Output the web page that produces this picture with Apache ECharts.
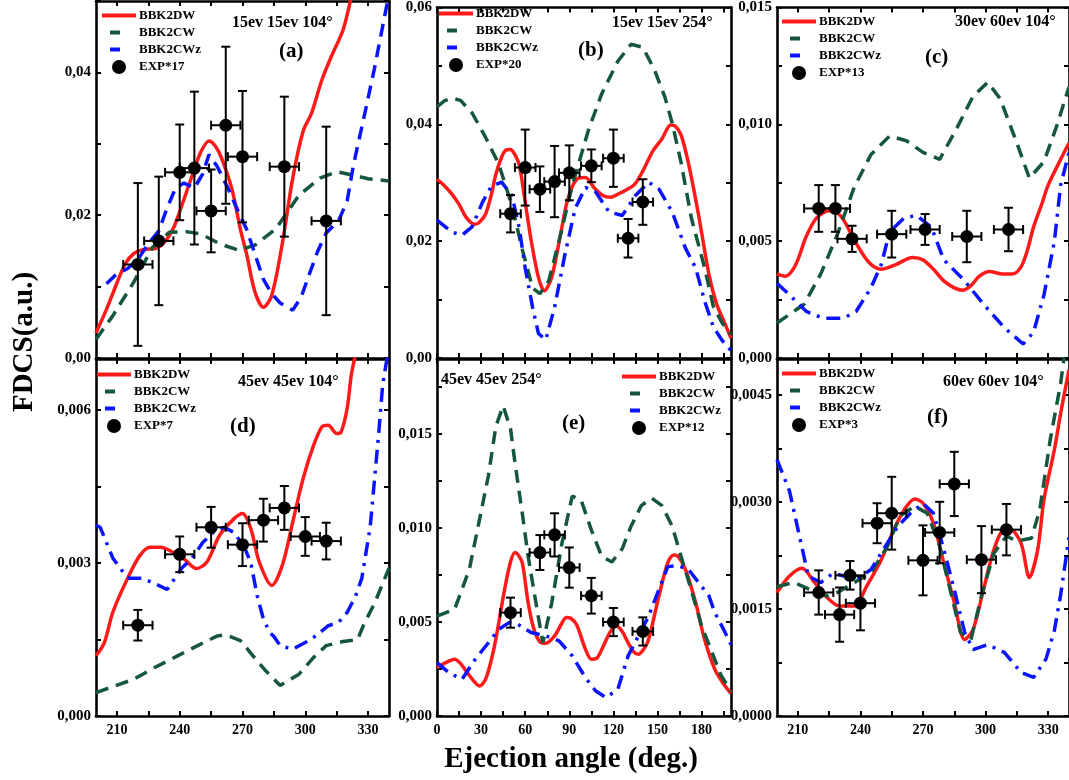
<!DOCTYPE html>
<html><head><meta charset="utf-8">
<script src="https://cdn.jsdelivr.net/npm/echarts@6/dist/echarts.min.js"></script>
<style>html,body{margin:0;padding:0;background:#fff}#c{width:1069px;height:780px}</style>
</head><body><div id="c"></div><script>
// ---------- data (angle in deg, FDCS in a.u.) ----------
// panel (a) 15ev 15ev 104°
const aRed = [[200,0.0035],[205,0.0068],[210,0.0105],[214,0.0132],[218,0.0146],[223,0.0152],[229,0.0154],[233,0.0163],[237,0.0182],[240,0.0205],[246,0.0256],[250,0.0288],[254,0.0304],[257,0.0297],[260,0.0280],[265,0.0236],[269,0.018],[272,0.0145],[276,0.0092],[280,0.0071],[284,0.0088],[289,0.016],[294,0.0252],[299,0.0318],[303,0.0343],[308,0.039],[313,0.0426],[318,0.0459],[322,0.0506],[326,0.056],[330,0.062]];
const aGreen = [[200,0.0026],[208,0.0059],[218,0.0106],[227,0.0155],[235,0.0176],[243,0.0177],[250,0.0174],[259,0.016],[268,0.0151],[276,0.0158],[286,0.0181],[297,0.0228],[307,0.0252],[315,0.0261],[323,0.0256],[330,0.0251],[340,0.0248]];
const aBlue = [[205,0.0104],[210,0.0118],[215,0.0125],[220,0.0138],[225,0.016],[230,0.0178],[234,0.021],[238,0.0238],[242,0.0245],[247,0.0238],[251,0.0258],[254,0.0285],[258,0.0268],[263,0.0238],[268,0.0205],[272,0.018],[276,0.0145],[280,0.011],[284,0.009],[288,0.0077],[294,0.0067],[298,0.0085],[302,0.0118],[306,0.015],[310,0.0175],[316,0.0193],[320,0.022],[323,0.027],[326,0.031],[329,0.035],[333,0.0405],[337,0.0465],[340,0.051]];
const aExp = [[220,0.0131,0.0114],[230,0.0164,0.009],[240,0.026,0.0067],[247,0.0266,0.0107],[255,0.0206,0.0058],[262,0.0326,0.011],[270,0.0282,0.0092],[290,0.0268,0.0098],[310,0.0192,0.0132]];
// panel (b) 15ev 15ev 254°
const bRed = [[0,0.0306],[5,0.0295],[10,0.0281],[15,0.0263],[19,0.0244],[23,0.0232],[26,0.0229],[29,0.0233],[33,0.0246],[37,0.028],[40,0.0314],[44,0.0344],[47,0.0356],[50,0.0357],[53,0.0348],[56,0.033],[60,0.0267],[64,0.0202],[69,0.0138],[73,0.0115],[78,0.0138],[84,0.0211],[89,0.0272],[95,0.0306],[101,0.0309],[107,0.0291],[113,0.0278],[118,0.0275],[125,0.0283],[134,0.0296],[140,0.032],[147,0.0355],[153,0.0375],[159,0.0399],[162,0.0397],[166,0.0382],[171,0.0334],[178,0.0244],[185,0.0143],[190,0.0094],[196,0.0058],[200,0.0034]];
const bGreen = [[0,0.043],[5,0.044],[10,0.0445],[16,0.0441],[24,0.0419],[33,0.0378],[42,0.0332],[51,0.0261],[58,0.0186],[65,0.012],[70,0.011],[76,0.0132],[83,0.02],[92,0.0295],[103,0.039],[112,0.0452],[123,0.0508],[132,0.0537],[140,0.0532],[148,0.0493],[155,0.0447],[160,0.0402],[166,0.0335],[173,0.024],[182,0.0155],[188,0.0088],[194,0.006],[200,0.004]];
const bBlue = [[0,0.0236],[10,0.0216],[17,0.021],[24,0.0225],[31,0.0267],[37,0.0294],[44,0.0301],[51,0.0278],[56,0.0222],[60,0.0154],[65,0.0087],[69,0.0042],[74,0.0031],[80,0.0087],[87,0.0177],[94,0.0256],[101,0.0292],[108,0.0284],[117,0.025],[126,0.0244],[135,0.0278],[144,0.0301],[151,0.0289],[160,0.025],[169,0.0188],[176,0.0154],[182,0.0098],[188,0.0053],[194,0.003],[200,0.0013]];
const bExp = [[50,0.0247,0.0032],[60,0.0326,0.0065],[70,0.0289,0.0039],[80,0.0302,0.0061],[90,0.0317,0.0047],[105,0.0329,0.0028],[120,0.0342,0.0049],[130,0.0205,0.0033],[140,0.0267,0.0039]];
// panel (c) 30ev 60ev 104°
const cRed = [[200,0.0036],[204,0.0035],[207,0.0037],[210,0.0042],[214,0.0052],[219,0.006],[225,0.0063],[229,0.0062],[232,0.0059],[238,0.0049],[244,0.0041],[250,0.0038],[257,0.004],[265,0.0043],[270,0.0042],[275,0.0038],[280,0.0033],[285,0.003],[289,0.0029],[293,0.0031],[297,0.0035],[302,0.0037],[308,0.0036],[313,0.0036],[317,0.0039],[320,0.0046],[323,0.0056],[327,0.0066],[330,0.0074],[336,0.0085],[340,0.0092]];
const cGreen = [[200,0.0015],[213,0.0023],[221,0.0036],[229,0.0053],[237,0.0073],[245,0.0087],[254,0.0095],[262,0.0093],[270,0.0088],[278,0.0085],[286,0.0098],[294,0.0112],[301,0.0118],[307,0.0111],[315,0.0092],[321,0.0077],[328,0.0084],[334,0.0099],[340,0.0116]];
const cBlue = [[200,0.0032],[206,0.0027],[214,0.002],[222,0.0017],[232,0.0017],[238,0.002],[245,0.003],[250,0.004],[254,0.0054],[261,0.006],[267,0.0061],[274,0.0056],[280,0.0042],[290,0.0033],[299,0.0023],[309,0.0013],[318,0.0006],[323,0.0011],[328,0.0027],[333,0.005],[336,0.0074],[340,0.0088]];
const cExp = [[220,0.0064,0.001],[228,0.0064,0.001],[236,0.0051,0.00056],[255,0.0053,0.001],[271,0.0055,0.00066],[291,0.0052,0.0011],[311,0.0055,0.00093]];
// panel (d) 45ev 45ev 104°
const dRed = [[200,0.00118],[204,0.00144],[208,0.00203],[215,0.00269],[221,0.00315],[226,0.00331],[231,0.00331],[235,0.00325],[242,0.00308],[248,0.00289],[253,0.00302],[259,0.00354],[266,0.00387],[270,0.00397],[274,0.00367],[278,0.00302],[284,0.00256],[289,0.00295],[294,0.0038],[299,0.00466],[304,0.00531],[308,0.00567],[311,0.0057],[315,0.00554],[317,0.00556],[320,0.00603],[322,0.00669],[324,0.0071],[327,0.0078]];
const dGreen = [[200,0.00046],[207,0.00056],[218,0.00072],[228,0.00095],[239,0.00118],[250,0.00141],[258,0.00157],[262,0.00159],[269,0.00148],[275,0.00118],[281,0.00089],[288,0.0006],[297,0.00082],[304,0.00115],[310,0.00138],[318,0.00146],[325,0.0015],[328,0.0018],[333,0.0022],[338,0.0027],[340,0.0029]];
const dBlue = [[200,0.00374],[202,0.0037],[205,0.0034],[208,0.0031],[212,0.00287],[216,0.0027],[222,0.0027],[228,0.0026],[234,0.00248],[241,0.0029],[246,0.0031],[251,0.0034],[256,0.0036],[261,0.0037],[266,0.0036],[271,0.0033],[274,0.003],[277,0.00236],[280,0.0019],[283,0.00164],[285,0.00156],[288,0.00138],[294,0.00131],[300,0.00144],[305,0.00157],[311,0.00177],[316,0.00184],[320,0.00203],[324,0.00235],[327,0.0027],[331,0.0037],[333,0.0046],[335,0.0055],[337,0.0065],[339,0.007],[340,0.0073]];
const dExp = [[220,0.00178,0.0003],[240,0.00317,0.00035],[255,0.0037,0.0004],[270,0.00336,0.00042],[280,0.00384,0.00042],[290,0.00408,0.00043],[300,0.00352,0.00038],[310,0.00343,0.00036]];
// panel (e) 45ev 45ev 254°
const eRed = [[0,0.00257],[6,0.00284],[12,0.00302],[16,0.0028],[19,0.00248],[25,0.00186],[29,0.0016],[33,0.00195],[37,0.003],[40,0.00408],[46,0.00674],[50,0.0082],[53,0.0087],[55,0.0086],[58,0.00816],[62,0.00603],[66,0.0046],[70,0.00395],[74,0.00387],[80,0.00426],[85,0.00495],[88,0.00524],[91,0.0052],[95,0.00485],[101,0.00355],[105,0.00302],[109,0.0031],[113,0.0037],[118,0.0045],[122,0.00479],[126,0.0045],[130,0.0039],[134,0.0034],[137,0.00328],[141,0.0036],[144,0.00408],[151,0.00639],[157,0.00816],[161,0.00857],[164,0.0085],[169,0.00781],[176,0.00603],[182,0.00408],[189,0.00248],[195,0.0017],[200,0.0012]];
const eGreen = [[0,0.00532],[12,0.00568],[22,0.00781],[28,0.0101],[35,0.0128],[40,0.0154],[45,0.0165],[50,0.0153],[53,0.0135],[58,0.0108],[62,0.0085],[68,0.0057],[72,0.0039],[78,0.006],[85,0.0092],[92,0.0117],[98,0.0115],[105,0.0099],[112,0.0085],[119,0.0082],[126,0.0089],[132,0.0101],[139,0.0112],[146,0.0116],[153,0.0112],[160,0.0101],[166,0.0085],[173,0.0067],[180,0.0048],[187,0.0034],[193,0.0022],[200,0.0013]];
const eBlue = [[0,0.00284],[8,0.00231],[17,0.00195],[26,0.00302],[35,0.0039],[42,0.00461],[49,0.00497],[55,0.00488],[64,0.00444],[74,0.00426],[83,0.004],[92,0.0032],[101,0.00204],[108,0.00133],[115,0.00098],[123,0.00142],[130,0.0032],[137,0.00426],[144,0.00532],[151,0.00674],[157,0.00795],[164,0.008],[171,0.00781],[178,0.0071],[185,0.00639],[189,0.0055],[195,0.0046],[200,0.0038]];
const eExp = [[50,0.0055,0.0008],[70,0.0087,0.00093],[80,0.00964,0.00115],[90,0.0079,0.00107],[105,0.0064,0.00095],[120,0.005,0.00075],[140,0.0045,0.00075]];
// panel (f) 60ev 60ev 104°
const fRed = [[200,0.00173],[206,0.00196],[212,0.00207],[218,0.00187],[224,0.00166],[230,0.00154],[237,0.00154],[243,0.00182],[250,0.00219],[256,0.00261],[261,0.00289],[266,0.00304],[270,0.00298],[275,0.0027],[280,0.00214],[285,0.00159],[290,0.00107],[294,0.00121],[299,0.00177],[304,0.00233],[309,0.00261],[312,0.00261],[317,0.00242],[321,0.00194],[325,0.00233],[328,0.00303],[333,0.00373],[336,0.00424],[340,0.00485]];
const fGreen = [[200,0.00181],[208,0.00187],[216,0.00177],[224,0.00168],[229,0.00173],[237,0.00187],[245,0.002],[253,0.00238],[259,0.0028],[266,0.00294],[272,0.00284],[278,0.00238],[283,0.00177],[288,0.00117],[293,0.00107],[298,0.00168],[304,0.00228],[310,0.00252],[315,0.00245],[322,0.00249],[326,0.00289],[331,0.00387],[336,0.00466],[338,0.0051]];
const fBlue = [[200,0.00359],[206,0.00315],[211,0.00249],[215,0.00196],[221,0.00187],[227,0.002],[232,0.00196],[238,0.00191],[245,0.00205],[251,0.00233],[258,0.00266],[264,0.00284],[270,0.00298],[275,0.00284],[280,0.00233],[285,0.00177],[290,0.00117],[294,0.00093],[301,0.001],[309,0.00089],[317,0.00061],[323,0.00054],[329,0.0008],[333,0.0012],[336,0.0017],[339,0.0023],[340,0.0025]];
const fExp = [[220,0.00173,0.00031],[230,0.00142,0.00038],[235,0.00197,0.0002],[240,0.00158,0.00038],[248,0.0027,0.00028],[255,0.00284,0.00051],[270,0.00218,0.00049],[278,0.00257,0.00043],[285,0.00325,0.00045],[298,0.00219,0.00047],[310,0.00261,0.00036]];
const EXP_XERR = 7;

// tick values / labels
const angTicksL = [210,225,240,255,270,285,300,315,330];
const angLabelsL = [210,240,270,300,330];
const angTicksM = [0,15,30,45,60,75,90,105,120,135,150,165,180,195];
const angLabelsM = [0,30,60,90,120,150,180];
const aYTicks = [0,0.01,0.02,0.03,0.04,0.05], aYLabels = [0,0.02,0.04];
const bYTicks = [0,0.01,0.02,0.03,0.04,0.05,0.06], bYLabels = [0,0.02,0.04,0.06];
const cYTicks = [0,0.0025,0.005,0.0075,0.01,0.0125,0.015], cYLabels = [0,0.005,0.01,0.015];
const dYTicks = [0,0.0015,0.003,0.0045,0.006], dYLabels = [0,0.003,0.006];
const eYTicks = [0,0.0025,0.005,0.0075,0.01,0.0125,0.015,0.0175], eYLabels = [0,0.005,0.01,0.015];
const fYTicks = [0,0.00075,0.0015,0.00225,0.003,0.00375,0.0045], fYLabels = [0,0.0015,0.003,0.0045];

// ---------- layout / style ----------
const FONT = 'Liberation Serif';
const RED = '#ff1a1a', GREEN = '#15573c', BLUE = '#0a14ff';
// legend icons: full solid bar, and a short centered dash (tiny end specks keep the width)
const ICON_SOLID = 'path://M0,0H34V4H0Z';
const ICON_DASH = 'path://M0,2H0.01V2.01H0Z M8,0H18V4H8Z M33.99,2H34V2.01H33.99Z';
const panels = [
  {id:'a', exp:'EXP*17', red:aRed, green:aGreen, blue:aBlue, pts:aExp, xr:[200,340], ymax:0.05, yt:aYTicks, yl:aYLabels, xt:angTicksL, xl:angLabelsL, dec:2, showX:false, blueDash:[13,8],
   grid:{left:96, top:1, width:293, height:357}, lg:{left:102, top:9}, title:{x:232, y:23, t:'15ev 15ev 104°'}, tag:{x:279, y:52, t:'(a)'}},
  {id:'b', exp:'EXP*20', red:bRed, green:bGreen, blue:bBlue, pts:bExp, xr:[0,200], ymax:0.06, yt:bYTicks, yl:bYLabels, xt:angTicksM, xl:angLabelsM, dec:2, showX:false, blueDash:[14,7,3,7],
   grid:{left:437, top:1, width:294, height:357}, lg:{left:439, top:7}, title:{x:612, y:23, t:'15ev 15ev 254°'}, tag:{x:578, y:51, t:'(b)'}},
  {id:'c', exp:'EXP*13', red:cRed, green:cGreen, blue:cBlue, pts:cExp, xr:[200,340], ymax:0.015, yt:cYTicks, yl:cYLabels, xt:angTicksL, xl:angLabelsL, dec:3, showX:false, blueDash:[14,7,3,7],
   grid:{left:777, top:1, width:296, height:357}, lg:{left:782, top:15}, title:{x:955, y:22, t:'30ev 60ev 104°'}, tag:{x:925, y:58, t:'(c)'}},
  {id:'d', exp:'EXP*7', red:dRed, green:dGreen, blue:dBlue, pts:dExp, xr:[200,340], ymax:0.007, yt:dYTicks, yl:dYLabels, xt:angTicksL, xl:angLabelsL, dec:3, showX:true, blueDash:[14,7,3,7],
   grid:{left:96, top:359, width:293, height:357}, lg:{left:97, top:368}, title:{x:238, y:382, t:'45ev 45ev 104°'}, tag:{x:230, y:427, t:'(d)'}},
  {id:'e', exp:'EXP*12', red:eRed, green:eGreen, blue:eBlue, pts:eExp, xr:[0,200], ymax:0.019, yt:eYTicks, yl:eYLabels, xt:angTicksM, xl:angLabelsM, dec:3, showX:true, blueDash:[14,7,3,7],
   grid:{left:437, top:359, width:294, height:357}, lg:{left:622, top:370}, title:{x:441, y:380, t:'45ev 45ev 254°'}, tag:{x:562, y:424, t:'(e)'}},
  {id:'f', exp:'EXP*3', red:fRed, green:fGreen, blue:fBlue, pts:fExp, xr:[200,340], ymax:0.005, yt:fYTicks, yl:fYLabels, xt:angTicksL, xl:angLabelsL, dec:4, showX:true, blueDash:[14,7,3,7],
   grid:{left:777, top:359, width:296, height:357}, lg:{left:782, top:367}, title:{x:943, y:382, t:'60ev 60ev 104°'}, tag:{x:927, y:418, t:'(f)'}}
];

const axLine = {show:true, onZero:false, lineStyle:{color:'#000', width:2.6}};
const grids = [], xAxes = [], yAxes = [], series = [], legends = [], graphics = [];

function errRender(params, api) {
  const x = api.value(0), y = api.value(1), ex = api.value(2), ey = api.value(3);
  const t = api.coord([x, y + ey]), b = api.coord([x, y - ey]);
  const l = api.coord([x - ex, y]), r = api.coord([x + ex, y]);
  const cap = 4.5, st = {stroke:'#000', lineWidth:2};
  const L = (x1,y1,x2,y2) => ({type:'line', shape:{x1,y1,x2,y2}, style:st});
  return {type:'group', children:[
    L(t[0],t[1],b[0],b[1]), L(t[0]-cap,t[1],t[0]+cap,t[1]), L(b[0]-cap,b[1],b[0]+cap,b[1]),
    L(l[0],l[1],r[0],r[1]), L(l[0],l[1]-cap,l[0],l[1]+cap), L(r[0],r[1]-cap,r[0],r[1]+cap)
  ]};
}

panels.forEach((p, i) => {
  grids.push(Object.assign({containLabel:false}, p.grid));
  const labelFont = {fontFamily:FONT, fontWeight:'bold', color:'#000'};
  xAxes.push({type:'value', gridIndex:i, position:'bottom', min:p.xr[0], max:p.xr[1],
    axisLine:axLine, splitLine:{show:false},
    axisTick:{show:true, inside:true, length:5, lineStyle:{width:2, color:'#000'}, customValues:p.xt},
    axisLabel:Object.assign({show:p.showX, margin:7, fontSize:14, customValues:p.xl}, labelFont)});
  xAxes.push({type:'value', gridIndex:i, position:'top', min:p.xr[0], max:p.xr[1],
    axisLine:axLine, splitLine:{show:false},
    axisTick:{show:true, inside:true, length:5, lineStyle:{width:2, color:'#000'}, customValues:p.xt},
    axisLabel:{show:false}});
  yAxes.push({type:'value', gridIndex:i, position:'left', min:0, max:p.ymax,
    axisLine:axLine, splitLine:{show:false},
    axisTick:{show:true, inside:true, length:5, lineStyle:{width:2, color:'#000'}, customValues:p.yt},
    axisLabel:Object.assign({show:true, margin:5, fontSize:15, customValues:p.yl,
      formatter:(v) => Number(v).toFixed(p.dec).replace('.', ',')}, labelFont)});
  yAxes.push({type:'value', gridIndex:i, position:'right', min:0, max:p.ymax,
    axisLine:axLine, splitLine:{show:false},
    axisTick:{show:true, inside:true, length:5, lineStyle:{width:2, color:'#000'}, customValues:p.yt},
    axisLabel:{show:false}});
  const ax = {xAxisIndex:2*i, yAxisIndex:2*i};
  series.push(Object.assign({name:'BBK2DW|'+p.id, type:'line', data:p.red, symbol:'none', smooth:0.3,
    lineStyle:{color:RED, width:3.5}, itemStyle:{color:RED}, z:3}, ax));
  series.push(Object.assign({name:'BBK2CW|'+p.id, type:'line', data:p.green, symbol:'none',
    lineStyle:{color:GREEN, width:3.5, type:[13,8]}, itemStyle:{color:GREEN}, z:3}, ax));
  series.push(Object.assign({name:'BBK2CWz|'+p.id, type:'line', data:p.blue, symbol:'none',
    lineStyle:{color:BLUE, width:3.5, type:p.blueDash}, itemStyle:{color:BLUE}, z:3}, ax));
  series.push(Object.assign({name:'err|'+p.id, type:'custom', renderItem:errRender,
    data:p.pts.map(d => [d[0], d[1], EXP_XERR, d[2]]), encode:{x:0, y:1}, z:4}, ax));
  series.push(Object.assign({name:p.exp+'|'+p.id, type:'scatter', data:p.pts.map(d => [d[0], d[1]]),
    symbol:'circle', symbolSize:13, itemStyle:{color:'#000', opacity:1}, z:5}, ax));
  legends.push({left:p.lg.left, top:p.lg.top, orient:'vertical', padding:0, itemGap:4,
    itemWidth:34, itemHeight:14, selectedMode:false,
    textStyle:{fontFamily:FONT, fontWeight:'bold', fontSize:13, color:'#000', padding:[0,0,0,-2]},
    formatter:(n) => n.split('|')[0],
    data:[{name:'BBK2DW|'+p.id, icon:ICON_SOLID},
          {name:'BBK2CW|'+p.id, icon:ICON_DASH},
          {name:'BBK2CWz|'+p.id, icon:ICON_DASH},
          {name:p.exp+'|'+p.id, icon:'circle', itemStyle:{color:'#000', opacity:1}}]});
  graphics.push({type:'text', x:p.title.x, y:p.title.y, style:{text:p.title.t, font:'bold 16px "Liberation Serif"', fill:'#000', align:'left', verticalAlign:'middle', textAlign:'left', textVerticalAlign:'middle'}, z:10});
  graphics.push({type:'text', x:p.tag.x, y:p.tag.y, style:{text:p.tag.t, font:'bold 21px "Liberation Serif"', fill:'#000', align:'left', verticalAlign:'middle', textAlign:'left', textVerticalAlign:'middle'}, z:10});
});

graphics.push({type:'text', x:25, y:342, rotation:Math.PI/2, style:{text:'FDCS(a.u.)', font:'bold 29px "Liberation Serif"', fill:'#000', align:'center', verticalAlign:'middle', textAlign:'center', textVerticalAlign:'middle'}});
graphics.push({type:'text', x:571, y:760, style:{text:'Ejection angle (deg.)', font:'bold 29px "Liberation Serif"', fill:'#000', align:'center', verticalAlign:'middle', textAlign:'center', textVerticalAlign:'middle'}});

const chart = echarts.init(document.getElementById('c'), null, {renderer:'canvas'});
chart.setOption({
  animation:false,
  backgroundColor:'#ffffff',
  grid:grids, xAxis:xAxes, yAxis:yAxes, series:series, legend:legends, graphic:graphics
});
</script></body></html>
